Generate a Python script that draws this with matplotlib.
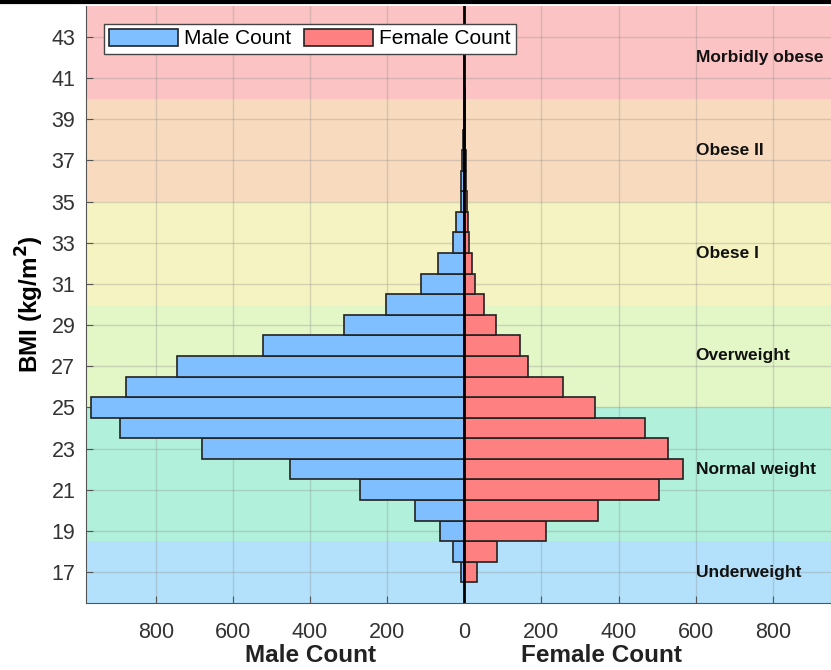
import numpy as np
import matplotlib
matplotlib.use("Agg")
import matplotlib.pyplot as plt
from matplotlib.lines import Line2D
from matplotlib.transforms import blended_transform_factory

plt.rcParams['font.family'] = ['Liberation Sans', 'DejaVu Sans']

# BMI bins (1 kg/m^2 wide, centred on the integer)
bmi = np.arange(17, 44)
male = [9, 29, 64, 129, 271, 452, 679, 894, 969, 877, 745, 521, 313, 202,
        111, 67, 30, 22, 8, 8, 5, 3, 2, 1, 1, 0, 0]
female = [32, 86, 211, 348, 505, 567, 527, 469, 338, 256, 165, 145, 81, 50,
          29, 19, 13, 9, 6, 5, 4, 2, 1, 1, 0, 0, 0]

# WHO categories
cat_names = ["Underweight", "Normal weight", "Overweight", "Obese I", "Obese II", "Morbidly obese"]
cat_lo = [15.5, 18.5, 25, 30, 35, 40]
cat_hi = [18.5, 25, 30, 35, 40, 44.5]
cat_label_y = [17, 22, 27.5, 32.5, 37.5, 42]
cat_colors = ['#B3E1FB', '#B1F0DA', '#E2F6C6', '#F5F3C1', '#F8DBBF', '#FBC3C3']

fig = plt.figure(figsize=(8.31, 6.70), dpi=100)
ax = fig.add_axes([86.4/831, 67/670, 755.8/831, 597/670])

for lo, hi, c in zip(cat_lo, cat_hi, cat_colors):
    ax.axhspan(lo, hi, color=c, zorder=0, lw=0)

ax.barh(bmi, -np.array(male), height=1.0, color='#80BFFF', edgecolor='#222222',
        linewidth=1.2, label='Male Count', zorder=3)
ax.barh(bmi, female, height=1.0, color='#FF8080', edgecolor='#222222',
        linewidth=1.2, label='Female Count', zorder=3)
ax.axvline(0, color='black', lw=2, zorder=4)

for name, y in zip(cat_names, cat_label_y):
    ax.text(600, y, name, fontsize=12.5, fontweight='bold', ha='left', va='center',
            color='#111111', zorder=5)

ax.set_xlim(-980, 980)
ax.set_ylim(15.5, 44.5)
xt = [-800, -600, -400, -200, 0, 200, 400, 600, 800]
ax.set_xticks(xt)
ax.set_xticklabels([str(abs(v)) for v in xt])
ax.set_yticks(np.arange(17, 44, 2))
ax.tick_params(direction='in', length=5, labelsize=15.5, colors='#555555',
               labelcolor='#333333')
ax.tick_params(axis='x', pad=14)
ax.tick_params(axis='y', pad=8)
ax.grid(True, color='#888888', alpha=0.3, lw=1, zorder=1)
ax.set_axisbelow(True)
for s in ['top', 'right']:
    ax.spines[s].set_visible(False)
for s in ['left', 'bottom']:
    ax.spines[s].set_color('#555555')

ax.set_ylabel('BMI (kg/m$^\\mathbf{2}$)', fontsize=17.5, fontweight='bold', labelpad=4)
tr = blended_transform_factory(ax.transData, ax.transAxes)
ax.text(-400, -0.088, 'Male Count', transform=tr, ha='center', va='center',
        fontsize=17.5, fontweight='bold', color='#222222')
ax.text(355, -0.088, 'Female Count', transform=tr, ha='center', va='center',
        fontsize=17.5, fontweight='bold', color='#222222')

leg = ax.legend(loc='upper left', ncol=2, fontsize=15, fancybox=False,
                framealpha=1, edgecolor='#444444', handlelength=3.3,
                handleheight=0.85, borderaxespad=0.85, columnspacing=0.6,
                handletextpad=0.3, borderpad=0.25)
leg.get_frame().set_linewidth(1)
leg.set_zorder(6)

fig.add_artist(Line2D([0, 1], [1 - 2/670, 1 - 2/670], transform=fig.transFigure,
                      color='black', lw=3))

fig.savefig('out.png', dpi=100)
